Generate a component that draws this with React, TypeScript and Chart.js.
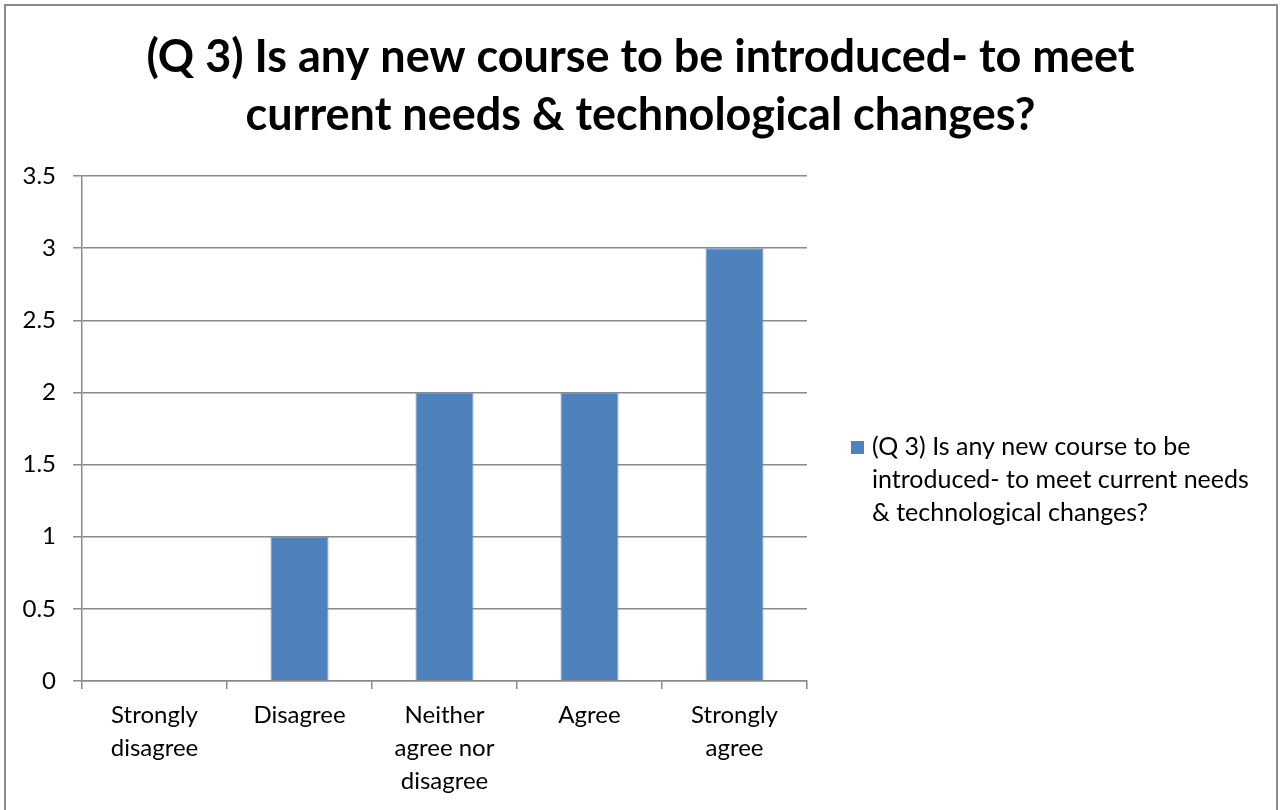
import React, { useEffect, useRef } from "react";
import { Chart, registerables } from "chart.js";

Chart.register(...registerables);

const titleLines = [
  "(Q 3) Is any new course to be introduced- to meet",
  "current needs & technological changes?",
];
const categories = [
  ["Strongly", "disagree"],
  ["Disagree"],
  ["Neither", "agree nor", "disagree"],
  ["Agree"],
  ["Strongly", "agree"],
];
const values = [0, 1, 2, 2, 3];
const legendLines = [
  "(Q 3) Is any new course to be",
  "introduced- to meet current needs",
  "& technological changes?",
];
const seriesLabel = legendLines.join(" ");
const yTicks = [0, 0.5, 1, 1.5, 2, 2.5, 3, 3.5];

const BAR = "#4F81BD";
const GRID = "#8a8a8a";
const FONT = "Lato, 'Open Sans', sans-serif";

const legendPlugin = {
  id: "sideLegend",
  afterDraw(chart: any) {
    const ctx = chart.ctx;
    const ds = chart.data.datasets[0];
    ctx.save();
    ctx.fillStyle = ds.backgroundColor;
    ctx.fillRect(851, 441, 13, 13);
    ctx.fillStyle = "#000";
    ctx.font = `25px ${FONT}`;
    ctx.textBaseline = "middle";
    ctx.textAlign = "left";
    legendLines.forEach((l, i) => ctx.fillText(l, 872, 447 + i * 33));
    ctx.restore();
  },
};

export default function App() {
  const ref = useRef<HTMLCanvasElement | null>(null);
  useEffect(() => {
    if (!ref.current) return;
    const chart = new Chart(ref.current, {
      type: "bar",
      data: {
        labels: categories as any,
        datasets: [
          {
            label: seriesLabel,
            data: values,
            backgroundColor: BAR,
            borderColor: "#6f97cb",
            borderWidth: 1,
            barPercentage: 0.4,
            categoryPercentage: 1,
          },
        ],
      },
      options: {
        animation: false,
        responsive: false,
        maintainAspectRatio: false,
        layout: { padding: 0 },
        plugins: {
          legend: { display: false },
          tooltip: { enabled: false },
          title: {
            display: true,
            text: titleLines,
            color: "#000",
            font: { family: FONT, size: 45, weight: "bold", lineHeight: 58 / 45 },
            padding: { top: 28, bottom: 32 },
          },
        },
        scales: {
          x: {
            grid: {
              display: true,
              drawOnChartArea: false,
              drawTicks: true,
              tickLength: 8,
              color: GRID,
              lineWidth: 1.5,
            },
            border: { display: true, color: GRID, width: 1.5 },
            ticks: {
              color: "#000",
              font: { family: FONT, size: 24, lineHeight: 33 / 24 },
              padding: 10,
              maxRotation: 0,
              autoSkip: false,
            },
            afterFit(scale: any) {
              scale.height = 129;
            },
          },
          y: {
            min: 0,
            max: 3.5,
            afterBuildTicks(scale: any) {
              scale.ticks = yTicks.map((v) => ({ value: v }));
            },
            grid: {
              color: GRID,
              lineWidth: 1.5,
              drawTicks: true,
              tickLength: 9,
            },
            border: { display: true, color: GRID, width: 1.5 },
            ticks: {
              color: "#000",
              font: { family: FONT, size: 24 },
              padding: 17,
              callback: (v: any) => String(v),
            },
            afterFit(scale: any) {
              scale.width = 82;
            },
          },
          pad: {
            type: "linear",
            position: "right",
            display: true,
            grid: { display: false },
            border: { display: false },
            ticks: { display: false },
            afterFit(scale: any) {
              scale.width = 474;
            },
          },
        },
      } as any,
      plugins: [legendPlugin],
    });
    return () => chart.destroy();
  }, []);
  return (
    <div style={{ position: "fixed", left: 0, top: 0, width: 1281, height: 810, background: "#fff", overflow: "hidden" }}>
      <canvas ref={ref} width={1281} height={810} style={{ position: "absolute", left: 0, top: 0 }} />
      <div
        style={{
          position: "absolute",
          left: 4,
          top: 4,
          width: 1270,
          height: 830,
          borderLeft: "2px solid #8c8c8c",
          borderTop: "2px solid #8c8c8c",
          borderRight: "2px solid #8c8c8c",
          pointerEvents: "none",
        }}
      />
    </div>
  );
}
